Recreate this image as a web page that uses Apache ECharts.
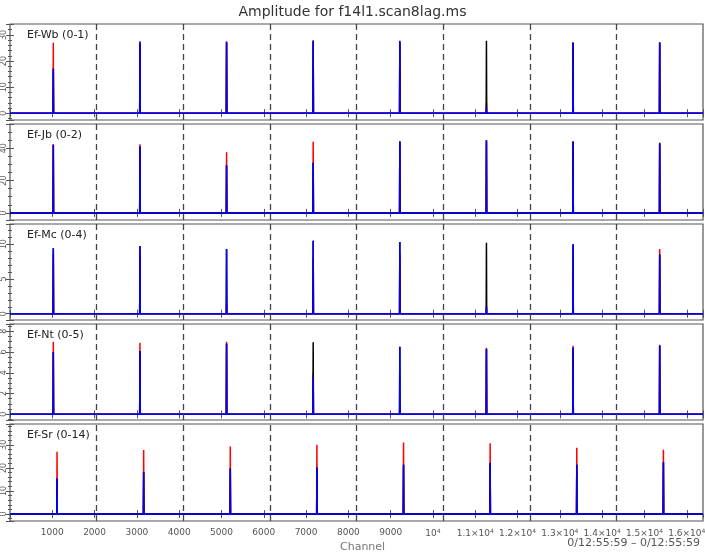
<!DOCTYPE html>
<html>
<head>
<meta charset="utf-8">
<script src="https://cdn.jsdelivr.net/npm/echarts@6/dist/echarts.min.js"></script>
<style>
  html, body { margin: 0; padding: 0; background: #fff; }
  #chart { width: 705px; height: 552px; }
</style>
</head>
<body>
<div id="chart"></div>
<script>
// channel axis
const channelMax = 16384
const dividerChannels = [2048, 4096, 6144, 8192, 10240, 12288, 14336]
const xTickLabels = ['1000', '2000', '3000', '4000', '5000', '6000', '7000', '8000', '9000',
  '10{s|4}', '1.1×10{s|4}', '1.2×10{s|4}', '1.3×10{s|4}', '1.4×10{s|4}', '1.5×10{s|4}', '1.6×10{s|4}']

// baselines
const panelNames = ['Ef-Wb (0-1)', 'Ef-Jb (0-2)', 'Ef-Mc (0-4)', 'Ef-Nt (0-5)', 'Ef-Sr (0-14)']
const spikeChannels = [1024, 3072, 5120, 7168, 9216, 11264, 13312, 15360]
const srSpikeChannels = [1112, 3160, 5208, 7256, 9304, 11352, 13400, 15448]
const yMin = [-2.6, -4.4, -0.9, -0.55, -3.0]
const yMax = [34.2, 55, 12.9, 8.7, 39]
const ySplit = [4, 3, 3, 5, 4]
const yMinorSplit = [5, 4, 5, 4, 5]

// peak amplitudes, one value per spike
const redWb = [27, 27, 27.6, 28, 27, 4, 27.2, 27.3]
const blackWb = [17, 27, 27, 27.5, 27.5, 27.8, 27, 27]
const blueWb = [17, 27.6, 27.3, 27.8, 27.8, 2, 27, 27]

const redJb = [42.7, 42.5, 37.5, 44, 44.5, 44, 44.5, 43.5]
const blackJb = [42, 41, 29.5, 31, 44, 45, 44, 43]
const blueJb = [42, 41, 29.5, 31, 44, 45, 44, 43]

const redMc = [8.5, 8.7, 1.5, 8, 8.5, 1, 6.3, 9.3]
const blackMc = [9.4, 9.7, 9.3, 10.5, 10.3, 10.2, 10, 8.5]
const blueMc = [9.4, 9.75, 9.3, 10.5, 10.3, 1, 10, 8.5]

const redNt = [7, 6.9, 7, 4, 1, 6.4, 6.6, 6.7]
const blackNt = [6, 6.1, 6.8, 6.95, 6.5, 6.3, 6.4, 6.6]
const blueNt = [6, 6.1, 6.8, 3.6, 6.5, 6.3, 6.4, 6.6]

const redSr = [27, 27.7, 29.3, 30, 31, 30.7, 28.7, 27.9]
const blackSr = [15.4, 18.2, 19.7, 20.2, 21.4, 22.1, 21.4, 22.4]
const blueSr = [15.4, 18.2, 19.7, 20.2, 21.4, 22.1, 21.4, 22.4]

const redPeaks = [redWb, redJb, redMc, redNt, redSr]
const blackPeaks = [blackWb, blackJb, blackMc, blackNt, blackSr]
const bluePeaks = [blueWb, blueJb, blueMc, blueNt, blueSr]

function spikeLine (chans, heights) {
  const pts = [[0, 0]]
  chans.forEach((c, i) => {
    pts.push([c - 6, 0], [c, heights[i]], [c + 6, 0])
  })
  pts.push([channelMax, 0])
  return pts
}

const chart = echarts.init(document.getElementById('chart'))

const grids = []
const xAxes = []
const yAxes = []
const series = []
const titles = [
  {
    text: 'Amplitude for f14l1.scan8lag.ms',
    left: 'center',
    top: 0,
    textStyle: { fontFamily: 'DejaVu Sans', fontSize: 14, fontWeight: 'normal', color: '#333' }
  }
]

panelNames.forEach((name, i) => {
  const last = i === panelNames.length - 1
  grids.push({
    left: 10,
    right: 2,
    top: 24 + 100 * i,
    height: last ? 97 : 96,
    containLabel: false,
    outerBoundsMode: 'none',
    show: true,
    borderColor: '#555',
    borderWidth: 1.2
  })
  const tick = { show: true, inside: true, length: 4, lineStyle: { color: '#555' } }
  xAxes.push({
    gridIndex: i,
    type: 'value',
    position: 'bottom',
    min: 0,
    max: channelMax,
    interval: 1000,
    axisLine: { show: false },
    splitLine: { show: false },
    axisTick: tick,
    axisLabel: {
      show: last,
      showMinLabel: false,
      showMaxLabel: false,
      margin: 7,
      fontFamily: 'DejaVu Sans',
      fontSize: 9,
      color: '#555',
      formatter: v => xTickLabels[v / 1000 - 1] || '',
      rich: { s: { fontSize: 6, verticalAlign: 'top', padding: [0, 0, 6, 0], color: '#555' } }
    }
  })
  xAxes.push({
    gridIndex: i,
    type: 'value',
    position: 'top',
    min: 0,
    max: channelMax,
    interval: 1000,
    axisLine: { show: false },
    splitLine: { show: false },
    axisTick: tick,
    axisLabel: { show: false }
  })
  const minor = { show: true, splitNumber: yMinorSplit[i], length: 2, lineStyle: { color: '#555' } }
  yAxes.push({
    gridIndex: i,
    type: 'value',
    position: 'left',
    min: yMin[i],
    max: yMax[i],
    splitNumber: ySplit[i],
    axisLine: { show: false },
    splitLine: { show: false },
    axisTick: tick,
    minorTick: minor,
    axisLabel: {
      rotate: 90,
      margin: 2,
      showMinLabel: false,
      showMaxLabel: false,
      fontFamily: 'DejaVu Sans',
      fontSize: 8,
      color: '#555'
    }
  })
  yAxes.push({
    gridIndex: i,
    type: 'value',
    position: 'right',
    min: yMin[i],
    max: yMax[i],
    splitNumber: ySplit[i],
    axisLine: { show: false },
    splitLine: { show: false },
    axisTick: tick,
    minorTick: minor,
    axisLabel: { show: false }
  })

  titles.push({
    text: name,
    left: 22,
    top: 25 + 100 * i,
    textStyle: { fontFamily: 'DejaVu Sans', fontSize: 11, fontWeight: 'normal', color: '#222' }
  })

  const chans = last ? srSpikeChannels : spikeChannels
  const common = {
    type: 'line',
    xAxisIndex: 2 * i,
    yAxisIndex: 2 * i,
    symbol: 'none',
    silent: true,
    animation: false
  }
  series.push({
    ...common,
    name: 'red',
    data: spikeLine(chans, redPeaks[i]),
    lineStyle: { color: '#ff0000', width: 1.5 },
    markLine: {
      silent: true,
      symbol: 'none',
      label: { show: false },
      lineStyle: { color: '#444', type: [6, 4], width: 1.3 },
      data: dividerChannels.map(c => ({ xAxis: c }))
    }
  })
  series.push({
    ...common,
    name: 'black',
    data: spikeLine(chans, blackPeaks[i]),
    lineStyle: { color: '#000000', width: 1.5 }
  })
  series.push({
    ...common,
    name: 'blue',
    data: spikeLine(chans, bluePeaks[i]),
    lineStyle: { color: '#0000ff', width: 1.5 }
  })
})

chart.setOption({
  backgroundColor: '#fff',
  animation: false,
  title: titles,
  grid: grids,
  xAxis: xAxes,
  yAxis: yAxes,
  series: series,
  graphic: [
    {
      type: 'text',
      left: 340,
      top: 542,
      style: { text: 'Channel', font: '11px "DejaVu Sans"', fill: '#777' }
    },
    {
      type: 'text',
      right: 5,
      top: 538,
      style: { text: '0/12:55:59 – 0/12:55:59', font: '11px "DejaVu Sans"', fill: '#555' }
    }
  ]
})
</script>
</body>
</html>
